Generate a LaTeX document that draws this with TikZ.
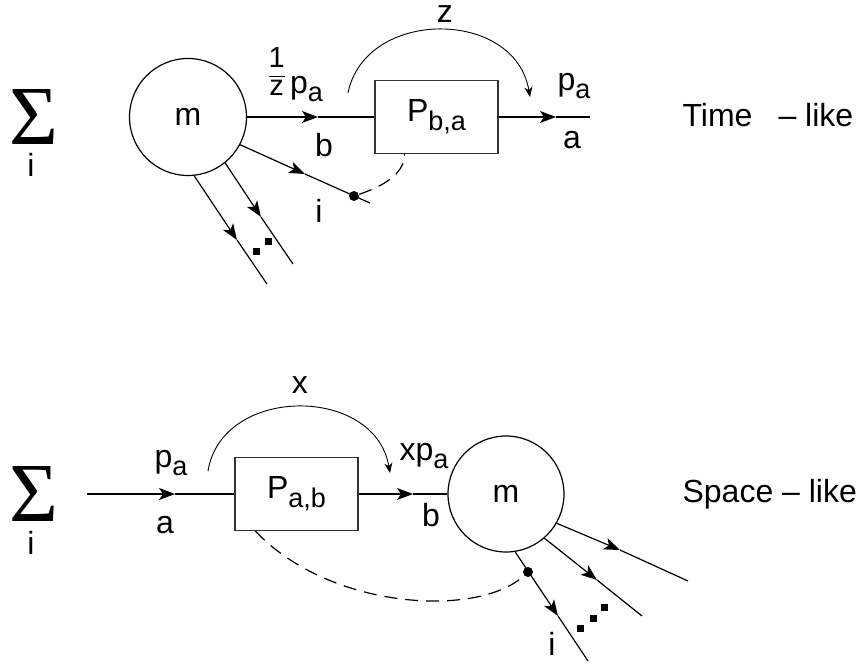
\documentclass[tikz,border=0pt]{standalone}
\usepackage{amsmath}
\usepackage{graphicx}
\usepackage{fontspec}
\setmainfont{Liberation Sans}
\newfontfamily\sumfont{Liberation Serif}
\usetikzlibrary{arrows.meta}
\newcommand\mysub[1]{\raisebox{-0.28em}{\fontsize{13.5pt}{14pt}\selectfont #1}}
\newcommand\myfrac[2]{{\fontsize{14.5pt}{15pt}\selectfont\setlength{\tabcolsep}{0pt}\setlength{\arrayrulewidth}{0.6pt}\renewcommand\arraystretch{0.9}\begin{tabular}{c}#1\\\hline #2\end{tabular}}}
\begin{document}
\begin{tikzpicture}[x=0.5pt,y=-0.5pt,
  font=\fontsize{16pt}{19pt}\selectfont,
  line width=0.6pt,
  midarrow/.style={-{Stealth[length=8pt,width=6pt,inset=2pt]}},
  arcarrow/.style={line width=0.45pt,-{Stealth[length=5pt,width=4pt,inset=1.5pt]}},
  dashline/.style={dash pattern=on 6.5pt off 4pt},
  lbl/.style={inner sep=0,anchor=base},
  lblw/.style={inner sep=0,anchor=base west},
  boxnode/.style={draw=black!80,rectangle,minimum width=61.5pt,minimum height=36.5pt,inner sep=0},
  ball/.style={draw,circle,inner sep=0,minimum size=58.5pt},
  dotnode/.style={circle,fill,inner sep=0,minimum size=5pt},
  sqnode/.style={fill,inner sep=0,minimum size=3.5pt},
  sumnode/.style={inner sep=0,anchor=base,text depth=0pt,font=\sumfont\fontsize{42pt}{44pt}\selectfont}]
\useasboundingbox (0,0) rectangle (859,665);

% ---------------- top: time-like ----------------
\node[sumnode] (s1) at (34,144) {Σ};
\node[lbl] (s1i) at (31,176) {i};

\node[ball] (m1) at (188,117) {m};
\node[boxnode] (b1) at (436.5,117) {P\mysub{b,a}};

\coordinate (t1) at (318,117);
\draw[midarrow] (m1.east) -- (t1);
\draw (t1) -- (b1.west);
\coordinate (t2) at (556,117);
\coordinate (e2) at (590,117);
\draw[midarrow] (b1.east) -- (t2);
\draw (t2) -- (e2);

\node[lblw] (lf) at (268,93) {\raisebox{5pt}{\myfrac{1}{z}}\,p\mysub{a}};
\node[lbl] (lb1) at (324,156) {b};
\node[lblw] (lpa1) at (557,90) {p\mysub{a}};
\node[lbl] (la1) at (572,148) {a};

% arc z
\coordinate (za) at (348,93);
\coordinate (zb) at (530,97);
\draw[arcarrow] (za) .. controls (365,8) and (515,8) .. (zb);
\node[lbl] (lz) at (445,22) {z};

% line i
\coordinate (ti) at (305,174);
\coordinate (ei) at (370,203);
\draw[midarrow] (m1.-28.3) -- (ti);
\draw (ti) -- (ei);
\node[dotnode] (d1) at (354,196) {};
\node[lbl] (li1) at (319,222) {i};
\draw[dashline] (d1) .. controls (390,184) and (405,170) .. ([xshift=15pt]b1.south west);

% parallel lines
\coordinate (p1t) at (237,240);
\coordinate (p1e) at (267,284);
\draw[midarrow] (m1.-84) -- (p1t);
\draw (p1t) -- (p1e);
\coordinate (p2t) at (261,217);
\coordinate (p2e) at (293,264);
\draw[midarrow] (m1.-51) -- (p2t);
\draw (p2t) -- (p2e);
\node[sqnode] (q1) at (256,251) {};
\node[sqnode] (q2) at (268,241) {};

\node[lblw] (tl) at (682,126) {Time\hspace{13pt}– like};

% ---------------- bottom: space-like ----------------
\node[sumnode] (s2) at (34,521) {Σ};
\node[lbl] (s2i) at (31,554) {i};

\node[boxnode] (b2) at (296.5,494) {P\mysub{a,b}};
\node[ball,minimum size=58pt] (m2) at (506,494) {m};

\coordinate (in) at (87,494);
\coordinate (t3) at (175,494);
\draw[midarrow] (in) -- (t3);
\draw (t3) -- (b2.west);
\coordinate (t4) at (413,494);
\draw[midarrow] (b2.east) -- (t4);
\draw (t4) -- (m2.west);

\node[lblw] (lpa2) at (154,467) {p\mysub{a}};
\node[lbl] (la2) at (165,533) {a};
\node[lblw] (lxp) at (399,460) {xp\mysub{a}};
\node[lbl] (lb2) at (431,526) {b};

% arc x
\coordinate (xa) at (208,471);
\coordinate (xb) at (390,473);
\draw[arcarrow] (xa) .. controls (222,385) and (375,385) .. (xb);
\node[lbl] (lx) at (300,393) {x};

% outgoing lines
\coordinate (o1t) at (620,550);
\coordinate (o1e) at (688,581);
\draw[midarrow] (m2.-30.5) -- (o1t);
\draw (o1t) -- (o1e);
\coordinate (o2t) at (597,580);
\coordinate (o2e) at (642,616);
\draw[midarrow] (m2.-49) -- (o2t);
\draw (o2t) -- (o2e);
\coordinate (o3t) at (558,616);
\coordinate (o3e) at (588,661);
\draw[midarrow] (m2.-81) -- (o3t);
\draw (o3t) -- (o3e);
\node[dotnode] (d2) at (528,572) {};
\node[lbl] (li2) at (552,655) {i};
\draw[dashline] ([xshift=10.5pt]b2.south west) .. controls (330,610) and (478,618) .. (d2);

\node[sqnode] (q3) at (580,628) {};
\node[sqnode] (q4) at (593,618) {};
\node[sqnode] (q5) at (604,607) {};

\node[lblw] (sl) at (682,502.5) {Space – like};
\end{tikzpicture}
\end{document}
